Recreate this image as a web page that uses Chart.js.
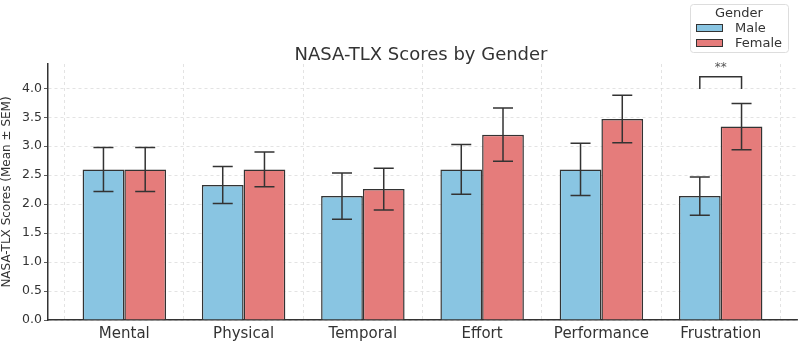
<!DOCTYPE html>
<html>
<head>
<meta charset="utf-8">
<script src="https://cdn.jsdelivr.net/npm/chart.js@4"></script>
<style>
  html, body { margin: 0; padding: 0; background: #fff; }
  #wrap { width: 800px; height: 342px; }
</style>
</head>
<body>
<div id="wrap"><canvas id="tlx-Chart"></canvas></div>
<script>
const categories = ["Mental", "Physical", "Temporal", "Effort", "Performance", "Frustration"];
const maleMean = [2.60, 2.33, 2.14, 2.60, 2.60, 2.14];
const maleSem = [0.38, 0.32, 0.40, 0.43, 0.45, 0.33];
const femaleMean = [2.60, 2.60, 2.26, 3.20, 3.47, 3.34];
const femaleSem = [0.38, 0.30, 0.36, 0.46, 0.41, 0.40];
const yTicks = [0, 0.5, 1, 1.5, 2, 2.5, 3, 3.5, 4];

const FONT = "'DejaVu Sans', sans-serif";
const TXT = "#333333";

const toPoints = arr => arr.map((v, i) => ({ x: i, y: v }));

// error bars + significance bracket
const errorBars = {
  id: "errorBars",
  afterDatasetsDraw(chart) {
    const ctx = chart.ctx;
    const y = chart.scales.y;
    const sems = [maleSem, femaleSem];
    ctx.save();
    ctx.strokeStyle = "#333";
    ctx.lineWidth = 1.5;
    chart.data.datasets.forEach((ds, d) => {
      const meta = chart.getDatasetMeta(d);
      meta.data.forEach((bar, i) => {
        const v = ds.data[i].y;
        const top = y.getPixelForValue(v + sems[d][i]);
        const bot = y.getPixelForValue(v - sems[d][i]);
        ctx.beginPath();
        ctx.moveTo(bar.x, top); ctx.lineTo(bar.x, bot);
        ctx.moveTo(bar.x - 10, top); ctx.lineTo(bar.x + 10, top);
        ctx.moveTo(bar.x - 10, bot); ctx.lineTo(bar.x + 10, bot);
        ctx.stroke();
      });
    });
    // ** bracket over Frustration
    const m = chart.getDatasetMeta(0).data[5];
    const f = chart.getDatasetMeta(1).data[5];
    const hi = y.getPixelForValue(4.2);
    const lo = y.getPixelForValue(3.99);
    ctx.beginPath();
    ctx.moveTo(m.x, lo); ctx.lineTo(m.x, hi); ctx.lineTo(f.x, hi); ctx.lineTo(f.x, lo);
    ctx.stroke();
    ctx.fillStyle = "#555";
    ctx.font = "12px " + FONT;
    ctx.textAlign = "center";
    ctx.textBaseline = "middle";
    ctx.fillText("**", (m.x + f.x) / 2, hi - 9);
    ctx.restore();
  }
};

// title and legend box drawn by hand
const decor = {
  id: "decor",
  afterDraw(chart) {
    const ctx = chart.ctx;
    ctx.save();
    ctx.fillStyle = TXT;
    ctx.font = "18px " + FONT;
    ctx.textAlign = "center";
    ctx.textBaseline = "middle";
    ctx.fillText("NASA-TLX Scores by Gender", 421, 55);

    ctx.fillStyle = "rgba(255,255,255,0.85)";
    ctx.strokeStyle = "#dddddd";
    ctx.lineWidth = 1;
    ctx.beginPath();
    ctx.roundRect(690.5, 4.5, 98, 48, 3);
    ctx.fill(); ctx.stroke();

    ctx.fillStyle = TXT;
    ctx.font = "13px " + FONT;
    ctx.fillText("Gender", 739, 14);
    ctx.textAlign = "left";
    const items = [["Male", "#89c5e2"], ["Female", "#e57c7b"]];
    items.forEach((it, k) => {
      const yy = 28 + k * 15;
      ctx.fillStyle = it[1];
      ctx.strokeStyle = "#333";
      ctx.fillRect(696, yy - 4, 27, 8);
      ctx.strokeRect(696.5, yy - 3.5, 26, 7);
      ctx.fillStyle = TXT;
      ctx.fillText(it[0], 735, yy + 1);
    });
    ctx.restore();
  }
};

const data = {
  datasets: [
    {
      label: "Male",
      data: toPoints(maleMean),
      backgroundColor: "#89c5e2",
      borderColor: "#333",
      borderWidth: 1.5,
      categoryPercentage: 0.7,
      barPercentage: 1.0
    },
    {
      label: "Female",
      data: toPoints(femaleMean),
      backgroundColor: "#e57c7b",
      borderColor: "#333",
      borderWidth: 1.5,
      categoryPercentage: 0.7,
      barPercentage: 1.0
    }
  ]
};

const config = {
  type: "bar",
  data: data,
  options: {
    responsive: true,
    maintainAspectRatio: false,
    animation: false,
    layout: { padding: { top: 64, right: 3, bottom: 0, left: 0 } },
    plugins: {
      legend: { display: false },
      title: { display: false },
      tooltip: { enabled: false }
    },
    scales: {
      x: {
        type: "linear",
        min: -0.64,
        max: 5.64,
        offset: false,
        afterBuildTicks: s => { s.ticks = categories.map((c, i) => ({ value: i })); },
        afterFit: s => { s.height = 22; },
        ticks: {
          callback: v => categories[v],
          color: TXT,
          font: { family: FONT, size: 15 },
          padding: 5,
          maxRotation: 0,
          autoSkip: false
        },
        grid: { color: "#dcdcdc", lineWidth: 0.8, drawTicks: false },
        border: { display: true, color: "#333", width: 1.5, dash: [3, 3] }
      },
      y: {
        min: 0,
        max: 4.42,
        afterBuildTicks: s => { s.ticks = yTicks.map(v => ({ value: v })); },
        afterFit: s => { s.width = 48; },
        ticks: {
          callback: v => v.toFixed(1),
          color: TXT,
          font: { family: FONT, size: 12.5 },
          padding: 2
        },
        grid: { color: "#dcdcdc", lineWidth: 0.8, tickLength: 4, tickColor: "#333" },
        border: { display: true, color: "#333", width: 1.5, dash: [3, 3] },
        title: {
          display: true,
          text: "NASA-TLX Scores (Mean ± SEM)",
          color: TXT,
          font: { family: FONT, size: 12 },
          padding: 0
        }
      }
    }
  },
  plugins: [errorBars, decor]
};

let myChart = new Chart(document.getElementById("tlx-Chart"), config);
</script>
</body>
</html>
